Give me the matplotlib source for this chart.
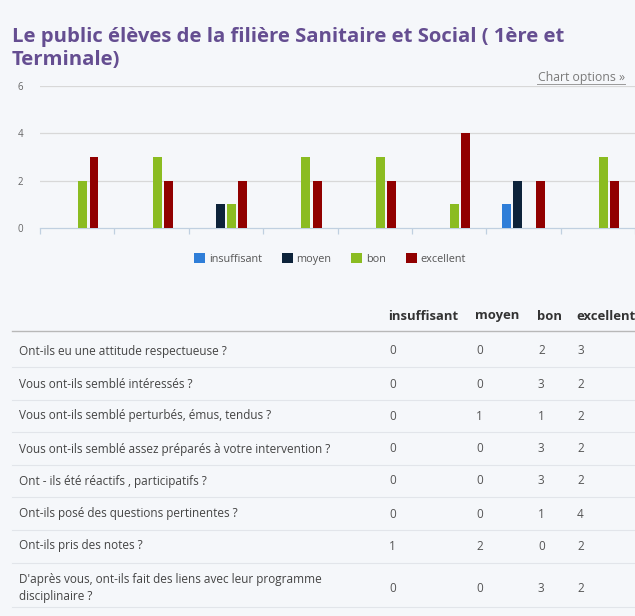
"""Sanitaire et Social survey: grouped bar chart plus answer table, Highcharts-style page."""
import matplotlib
matplotlib.use("Agg")
import matplotlib.pyplot as plt
import numpy as np
from matplotlib.lines import Line2D
from matplotlib.patches import Patch

questions = [
    "Ont-ils eu une attitude respectueuse ?",
    "Vous ont-ils semblé intéressés ?",
    "Vous ont-ils semblé perturbés, émus, tendus ?",
    "Vous ont-ils semblé assez préparés à votre intervention ?",
    "Ont - ils été réactifs , participatifs ?",
    "Ont-ils posé des questions pertinentes ?",
    "Ont-ils pris des notes ?",
    "D'après vous, ont-ils fait des liens avec leur programme\ndisciplinaire ?",
]
levels = ["insuffisant", "moyen", "bon", "excellent"]
insuffisant = [0, 0, 0, 0, 0, 0, 1, 0]
moyen = [0, 0, 1, 0, 0, 0, 2, 0]
bon = [2, 3, 1, 3, 3, 1, 0, 3]
excellent = [3, 2, 2, 2, 2, 4, 2, 2]
colors = ["#2f7ed8", "#0d233a", "#8bbc21", "#910000"]
yticks = [0, 2, 4, 6]

BG = "#f5f7fa"
W, H = 635, 616
plt.rcParams["font.family"] = ["Open Sans", "DejaVu Sans"]

fig = plt.figure(figsize=(W / 100, H / 100), dpi=100, facecolor=BG)


def fx(px):
    return px / W


def fy(py):
    return 1 - py / H


# title + link ---------------------------------------------------------------
fig.text(fx(12), fy(27), "Le public élèves de la filière Sanitaire et Social ( 1ère et\nTerminale)",
         ha="left", va="top", fontsize=14.6, fontweight="bold", color="#654e91",
         linespacing=1.2)
fig.text(fx(625), fy(77), "Chart options »", ha="right", va="center",
         fontsize=8.8, color="#7a7a7a")
fig.add_artist(Line2D([fx(537), fx(625)], [fy(84), fy(84)], color="#9a9a9a", lw=0.7))

# bar chart ------------------------------------------------------------------
ax = fig.add_axes([fx(40), fy(228), 1 - fx(40), fy(86) - fy(228)])
ax.set_facecolor(BG)
x = np.arange(len(questions))
step, width = 0.151, 0.12
series = [insuffisant, moyen, bon, excellent]
for i, (vals, c) in enumerate(zip(series, colors)):
    ax.bar(x + (i - 1.5) * step, vals, width, color=c, zorder=3)

ax.set_ylim(0, 6)
ax.set_xlim(-0.5, -0.5 + (W - 40) / 74.7)
ax.set_yticks(yticks)
ax.set_yticklabels([str(t) for t in yticks], fontsize=7, color="#666666")
for t in yticks[1:]:
    ax.axhline(t, color="#d8d8d8", lw=0.9, zorder=1)
ax.set_xticks(np.arange(len(questions) + 1) - 0.5)
ax.set_xticklabels([])
ax.tick_params(axis="x", direction="out", length=4, color="#c0d0e0", width=0.9)
ax.tick_params(axis="y", length=0, pad=12)
for side in ("top", "right", "left"):
    ax.spines[side].set_visible(False)
ax.spines["bottom"].set_color("#c0d0e0")
ax.spines["bottom"].set_linewidth(0.9)

handles = [Patch(facecolor=c, edgecolor="none") for c in colors]
fig.legend(handles, levels, loc="center", bbox_to_anchor=(fx(330), fy(259)), ncol=4,
           frameon=False, fontsize=7.8, labelcolor="#555555", handlelength=1.0,
           handleheight=1.0, handletextpad=0.35, columnspacing=1.85)

# table ----------------------------------------------------------------------
col_x = [388, 475, 537, 576]
row_y = [351, 384, 416, 449, 481, 514, 546, 588]
row_lines = [367, 400, 432, 465, 497, 530, 563, 607]

for name, cx in zip(levels, col_x):
    fig.text(fx(cx), fy(316), name, ha="left", va="center", fontsize=9.4,
             fontweight="bold", color="#333333")
fig.add_artist(Line2D([fx(12), 1], [fy(331), fy(331)], color="#b8b8b8", lw=1.0))

for r, q in enumerate(questions):
    fig.text(fx(19), fy(row_y[r]), q, ha="left", va="center", fontsize=8.5,
             color="#444444", linespacing=1.45)
    for vals, cx in zip(series, col_x):
        fig.text(fx(cx + 1), fy(row_y[r]), str(vals[r]), ha="left", va="center",
                 fontsize=8.5, color="#555555")
    fig.add_artist(Line2D([fx(12), 1], [fy(row_lines[r]), fy(row_lines[r])],
                          color="#e2e5ea", lw=0.8))

fig.savefig("out.png", dpi=100, facecolor=BG)
